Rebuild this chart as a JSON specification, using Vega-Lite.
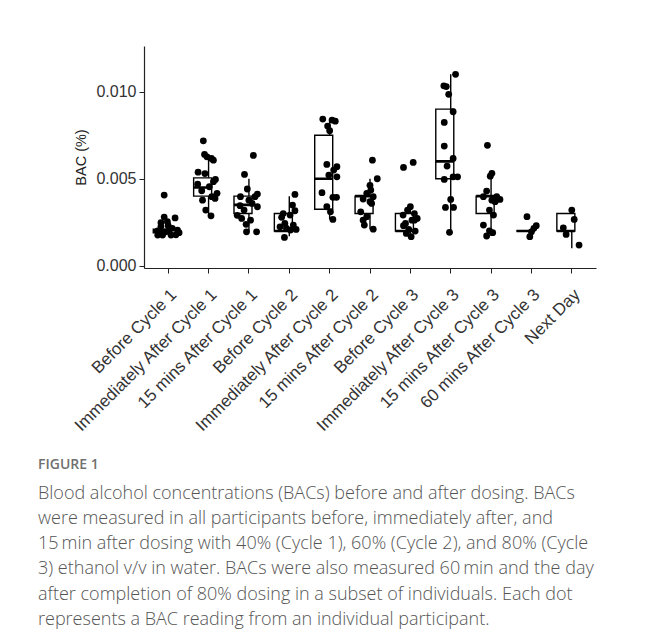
{
  "$schema": "https://vega.github.io/schema/vega-lite/v6.json",
  "autosize": "none",
  "width": 452,
  "height": 222,
  "padding": {"left": 144, "top": 46, "right": 58, "bottom": 371},
  "background": "white",
  "config": {"view": {"stroke": null}, "font": "Liberation Sans"},
  "title": {
    "text": "FIGURE 1",
    "subtitle": [
      "Blood alcohol concentrations (BACs) before and after dosing. BACs",
      "were measured in all participants before, immediately after, and",
      "15\u2009min after dosing with 40% (Cycle 1), 60% (Cycle 2), and 80% (Cycle",
      "3) ethanol v/v in water. BACs were also measured 60\u2009min and the day",
      "after completion of 80% dosing in a subset of individuals. Each dot",
      "represents a BAC reading from an individual participant."
    ],
    "orient": "bottom",
    "anchor": "start",
    "frame": "group",
    "dx": -106,
    "offset": 24,
    "font": "Open Sans",
    "fontSize": 14,
    "fontWeight": 600,
    "color": "#707070",
    "subtitleFont": "Open Sans",
    "subtitleFontSize": 18,
    "subtitleFontWeight": 300,
    "subtitleColor": "#555555",
    "subtitleLineHeight": 25.2,
    "subtitlePadding": 12.5
  },
  "datasets": {
    "boxes": [
      {"time": "Before Cycle 1", "lo": 0.0019, "q1": 0.0019, "med": 0.002, "q3": 0.0021, "hi": 0.0021},
      {"time": "Immediately After Cycle 1", "lo": 0.00287, "q1": 0.004, "med": 0.0045, "q3": 0.00505, "hi": 0.00617},
      {"time": "15 mins After Cycle 1", "lo": 0.00195, "q1": 0.003, "med": 0.0035, "q3": 0.004, "hi": 0.005},
      {"time": "Before Cycle 2", "lo": 0.0017, "q1": 0.002, "med": 0.002, "q3": 0.003, "hi": 0.004},
      {"time": "Immediately After Cycle 2", "lo": 0.00266, "q1": 0.00325, "med": 0.005, "q3": 0.0075, "hi": 0.00843},
      {"time": "15 mins After Cycle 2", "lo": 0.0021, "q1": 0.003, "med": 0.004, "q3": 0.004, "hi": 0.005},
      {"time": "Before Cycle 3", "lo": 0.0017, "q1": 0.002, "med": 0.002, "q3": 0.003, "hi": 0.0033},
      {"time": "Immediately After Cycle 3", "lo": 0.00192, "q1": 0.005, "med": 0.006, "q3": 0.009, "hi": 0.011},
      {"time": "15 mins After Cycle 3", "lo": 0.00171, "q1": 0.003, "med": 0.004, "q3": 0.004, "hi": 0.0053},
      {"time": "60 mins After Cycle 3", "lo": 0.002, "q1": 0.002, "med": 0.002, "q3": 0.002, "hi": 0.002},
      {"time": "Next Day", "lo": 0.001, "q1": 0.002, "med": 0.002, "q3": 0.003, "hi": 0.003}
    ],
    "points": [
      {"time": "Before Cycle 1", "bac": 0.00406, "j": -0.1},
      {"time": "Before Cycle 1", "bac": 0.0028, "j": -0.1},
      {"time": "Before Cycle 1", "bac": 0.00275, "j": 0.17},
      {"time": "Before Cycle 1", "bac": 0.00247, "j": -0.18},
      {"time": "Before Cycle 1", "bac": 0.0023, "j": 0.0},
      {"time": "Before Cycle 1", "bac": 0.00205, "j": 0.23},
      {"time": "Before Cycle 1", "bac": 0.00176, "j": -0.14},
      {"time": "Before Cycle 1", "bac": 0.00176, "j": 0.07},
      {"time": "Before Cycle 1", "bac": 0.00178, "j": 0.19},
      {"time": "Before Cycle 1", "bac": 0.002, "j": -0.26},
      {"time": "Before Cycle 1", "bac": 0.00195, "j": -0.06},
      {"time": "Before Cycle 1", "bac": 0.00215, "j": 0.1},
      {"time": "Before Cycle 1", "bac": 0.00225, "j": -0.18},
      {"time": "Before Cycle 1", "bac": 0.00253, "j": -0.02},
      {"time": "Before Cycle 1", "bac": 0.00176, "j": -0.26},
      {"time": "Before Cycle 1", "bac": 0.0019, "j": 0.27},
      {"time": "Immediately After Cycle 1", "bac": 0.00718, "j": -0.13},
      {"time": "Immediately After Cycle 1", "bac": 0.0064, "j": -0.1},
      {"time": "Immediately After Cycle 1", "bac": 0.00626, "j": -0.04},
      {"time": "Immediately After Cycle 1", "bac": 0.00617, "j": 0.07},
      {"time": "Immediately After Cycle 1", "bac": 0.00607, "j": 0.12},
      {"time": "Immediately After Cycle 1", "bac": 0.00538, "j": -0.26},
      {"time": "Immediately After Cycle 1", "bac": 0.0053, "j": -0.09},
      {"time": "Immediately After Cycle 1", "bac": 0.00496, "j": 0.17},
      {"time": "Immediately After Cycle 1", "bac": 0.00483, "j": 0.12},
      {"time": "Immediately After Cycle 1", "bac": 0.00469, "j": -0.27},
      {"time": "Immediately After Cycle 1", "bac": 0.00454, "j": 0.02},
      {"time": "Immediately After Cycle 1", "bac": 0.00431, "j": -0.17},
      {"time": "Immediately After Cycle 1", "bac": 0.00416, "j": 0.21},
      {"time": "Immediately After Cycle 1", "bac": 0.00397, "j": 0.08},
      {"time": "Immediately After Cycle 1", "bac": 0.00377, "j": -0.15},
      {"time": "Immediately After Cycle 1", "bac": 0.0032, "j": -0.07},
      {"time": "Immediately After Cycle 1", "bac": 0.00287, "j": 0.06},
      {"time": "Immediately After Cycle 1", "bac": 0.00387, "j": 0.16},
      {"time": "15 mins After Cycle 1", "bac": 0.00634, "j": 0.11},
      {"time": "15 mins After Cycle 1", "bac": 0.00525, "j": -0.11},
      {"time": "15 mins After Cycle 1", "bac": 0.00441, "j": -0.04},
      {"time": "15 mins After Cycle 1", "bac": 0.00412, "j": 0.21},
      {"time": "15 mins After Cycle 1", "bac": 0.00397, "j": 0.15},
      {"time": "15 mins After Cycle 1", "bac": 0.00397, "j": -0.21},
      {"time": "15 mins After Cycle 1", "bac": 0.00377, "j": 0.0},
      {"time": "15 mins After Cycle 1", "bac": 0.00358, "j": 0.08},
      {"time": "15 mins After Cycle 1", "bac": 0.00345, "j": -0.22},
      {"time": "15 mins After Cycle 1", "bac": 0.00339, "j": 0.21},
      {"time": "15 mins After Cycle 1", "bac": 0.0032, "j": -0.12},
      {"time": "15 mins After Cycle 1", "bac": 0.00272, "j": -0.18},
      {"time": "15 mins After Cycle 1", "bac": 0.00262, "j": 0.04},
      {"time": "15 mins After Cycle 1", "bac": 0.00238, "j": -0.07},
      {"time": "15 mins After Cycle 1", "bac": 0.00195, "j": -0.06},
      {"time": "15 mins After Cycle 1", "bac": 0.00195, "j": 0.19},
      {"time": "15 mins After Cycle 1", "bac": 0.0029, "j": -0.29},
      {"time": "Before Cycle 2", "bac": 0.0041, "j": 0.14},
      {"time": "Before Cycle 2", "bac": 0.00349, "j": 0.08},
      {"time": "Before Cycle 2", "bac": 0.003, "j": -0.15},
      {"time": "Before Cycle 2", "bac": 0.00316, "j": 0.14},
      {"time": "Before Cycle 2", "bac": 0.00291, "j": 0.02},
      {"time": "Before Cycle 2", "bac": 0.00278, "j": -0.19},
      {"time": "Before Cycle 2", "bac": 0.00243, "j": -0.11},
      {"time": "Before Cycle 2", "bac": 0.00234, "j": 0.1},
      {"time": "Before Cycle 2", "bac": 0.00224, "j": -0.23},
      {"time": "Before Cycle 2", "bac": 0.00209, "j": 0.17},
      {"time": "Before Cycle 2", "bac": 0.00215, "j": -0.07},
      {"time": "Before Cycle 2", "bac": 0.00163, "j": -0.12},
      {"time": "Before Cycle 2", "bac": 0.00205, "j": 0.03},
      {"time": "Immediately After Cycle 2", "bac": 0.00843, "j": -0.17},
      {"time": "Immediately After Cycle 2", "bac": 0.00837, "j": 0.06},
      {"time": "Immediately After Cycle 2", "bac": 0.00831, "j": 0.14},
      {"time": "Immediately After Cycle 2", "bac": 0.00803, "j": -0.05},
      {"time": "Immediately After Cycle 2", "bac": 0.00776, "j": 0.0},
      {"time": "Immediately After Cycle 2", "bac": 0.00582, "j": -0.07},
      {"time": "Immediately After Cycle 2", "bac": 0.00569, "j": 0.18},
      {"time": "Immediately After Cycle 2", "bac": 0.0055, "j": 0.1},
      {"time": "Immediately After Cycle 2", "bac": 0.00521, "j": -0.02},
      {"time": "Immediately After Cycle 2", "bac": 0.00511, "j": 0.18},
      {"time": "Immediately After Cycle 2", "bac": 0.0042, "j": -0.19},
      {"time": "Immediately After Cycle 2", "bac": 0.00393, "j": 0.08},
      {"time": "Immediately After Cycle 2", "bac": 0.00393, "j": 0.17},
      {"time": "Immediately After Cycle 2", "bac": 0.00339, "j": -0.07},
      {"time": "Immediately After Cycle 2", "bac": 0.0031, "j": 0.02},
      {"time": "Immediately After Cycle 2", "bac": 0.00266, "j": 0.08},
      {"time": "15 mins After Cycle 2", "bac": 0.00607, "j": 0.06},
      {"time": "15 mins After Cycle 2", "bac": 0.005, "j": 0.18},
      {"time": "15 mins After Cycle 2", "bac": 0.00462, "j": 0.0},
      {"time": "15 mins After Cycle 2", "bac": 0.00435, "j": 0.02},
      {"time": "15 mins After Cycle 2", "bac": 0.00416, "j": -0.08},
      {"time": "15 mins After Cycle 2", "bac": 0.00397, "j": 0.08},
      {"time": "15 mins After Cycle 2", "bac": 0.00383, "j": -0.17},
      {"time": "15 mins After Cycle 2", "bac": 0.00368, "j": 0.0},
      {"time": "15 mins After Cycle 2", "bac": 0.00358, "j": 0.04},
      {"time": "15 mins After Cycle 2", "bac": 0.0031, "j": -0.23},
      {"time": "15 mins After Cycle 2", "bac": 0.00282, "j": -0.08},
      {"time": "15 mins After Cycle 2", "bac": 0.00262, "j": -0.17},
      {"time": "15 mins After Cycle 2", "bac": 0.00234, "j": -0.14},
      {"time": "15 mins After Cycle 2", "bac": 0.0021, "j": 0.08},
      {"time": "Before Cycle 3", "bac": 0.00565, "j": -0.17},
      {"time": "Before Cycle 3", "bac": 0.00594, "j": 0.07},
      {"time": "Before Cycle 3", "bac": 0.00339, "j": 0.0},
      {"time": "Before Cycle 3", "bac": 0.0032, "j": -0.07},
      {"time": "Before Cycle 3", "bac": 0.003, "j": 0.1},
      {"time": "Before Cycle 3", "bac": 0.00291, "j": -0.18},
      {"time": "Before Cycle 3", "bac": 0.00272, "j": 0.17},
      {"time": "Before Cycle 3", "bac": 0.00262, "j": 0.04},
      {"time": "Before Cycle 3", "bac": 0.00243, "j": -0.12},
      {"time": "Before Cycle 3", "bac": 0.0023, "j": -0.17},
      {"time": "Before Cycle 3", "bac": 0.00209, "j": -0.04},
      {"time": "Before Cycle 3", "bac": 0.00199, "j": 0.12},
      {"time": "Before Cycle 3", "bac": 0.00186, "j": -0.1},
      {"time": "Before Cycle 3", "bac": 0.00167, "j": 0.02},
      {"time": "Before Cycle 3", "bac": 0.00262, "j": 0.1},
      {"time": "Immediately After Cycle 3", "bac": 0.011, "j": 0.12},
      {"time": "Immediately After Cycle 3", "bac": 0.01034, "j": -0.17},
      {"time": "Immediately After Cycle 3", "bac": 0.0103, "j": -0.11},
      {"time": "Immediately After Cycle 3", "bac": 0.00985, "j": -0.05},
      {"time": "Immediately After Cycle 3", "bac": 0.00885, "j": 0.06},
      {"time": "Immediately After Cycle 3", "bac": 0.00824, "j": -0.16},
      {"time": "Immediately After Cycle 3", "bac": 0.00688, "j": -0.16},
      {"time": "Immediately After Cycle 3", "bac": 0.00617, "j": 0.06},
      {"time": "Immediately After Cycle 3", "bac": 0.00573, "j": -0.09},
      {"time": "Immediately After Cycle 3", "bac": 0.00496, "j": -0.16},
      {"time": "Immediately After Cycle 3", "bac": 0.00511, "j": 0.06},
      {"time": "Immediately After Cycle 3", "bac": 0.00511, "j": 0.17},
      {"time": "Immediately After Cycle 3", "bac": 0.00381, "j": 0.0},
      {"time": "Immediately After Cycle 3", "bac": 0.00335, "j": -0.13},
      {"time": "Immediately After Cycle 3", "bac": 0.00335, "j": 0.07},
      {"time": "Immediately After Cycle 3", "bac": 0.00192, "j": -0.03},
      {"time": "15 mins After Cycle 3", "bac": 0.00692, "j": -0.09},
      {"time": "15 mins After Cycle 3", "bac": 0.00531, "j": 0.02},
      {"time": "15 mins After Cycle 3", "bac": 0.00515, "j": -0.02},
      {"time": "15 mins After Cycle 3", "bac": 0.00429, "j": -0.11},
      {"time": "15 mins After Cycle 3", "bac": 0.00397, "j": 0.14},
      {"time": "15 mins After Cycle 3", "bac": 0.00377, "j": 0.02},
      {"time": "15 mins After Cycle 3", "bac": 0.00397, "j": -0.19},
      {"time": "15 mins After Cycle 3", "bac": 0.00368, "j": 0.1},
      {"time": "15 mins After Cycle 3", "bac": 0.0032, "j": -0.04},
      {"time": "15 mins After Cycle 3", "bac": 0.00291, "j": 0.06},
      {"time": "15 mins After Cycle 3", "bac": 0.00234, "j": -0.19},
      {"time": "15 mins After Cycle 3", "bac": 0.00201, "j": -0.04},
      {"time": "15 mins After Cycle 3", "bac": 0.0019, "j": 0.04},
      {"time": "15 mins After Cycle 3", "bac": 0.00171, "j": -0.11},
      {"time": "15 mins After Cycle 3", "bac": 0.00381, "j": 0.22},
      {"time": "60 mins After Cycle 3", "bac": 0.00282, "j": -0.11},
      {"time": "60 mins After Cycle 3", "bac": 0.0023, "j": 0.12},
      {"time": "60 mins After Cycle 3", "bac": 0.00215, "j": 0.06},
      {"time": "60 mins After Cycle 3", "bac": 0.00195, "j": 0.0},
      {"time": "60 mins After Cycle 3", "bac": 0.00167, "j": -0.04},
      {"time": "Next Day", "bac": 0.0032, "j": 0.0},
      {"time": "Next Day", "bac": 0.00266, "j": 0.06},
      {"time": "Next Day", "bac": 0.00218, "j": -0.21},
      {"time": "Next Day", "bac": 0.0018, "j": -0.14},
      {"time": "Next Day", "bac": 0.00119, "j": 0.18}
    ]
  },
  "encoding": {
    "x": {
      "field": "time",
      "type": "nominal",
      "sort": ["Before Cycle 1", "Immediately After Cycle 1", "15 mins After Cycle 1", "Before Cycle 2", "Immediately After Cycle 2", "15 mins After Cycle 2", "Before Cycle 3", "Immediately After Cycle 3", "15 mins After Cycle 3", "60 mins After Cycle 3", "Next Day"],
      "scale": {"paddingInner": 0, "paddingOuter": 0.1},
      "axis": {
        "title": null,
        "labelAngle": -45,
        "labelAlign": "right",
        "labelBaseline": "top",
        "labelFontSize": 17,
        "labelColor": "#333333",
        "labelPadding": 13,
        "tickSize": 5,
        "tickColor": "#222222",
        "domainColor": "#222222",
        "domainWidth": 1.2,
        "labelLimit": 300
      }
    }
  },
  "layer": [
    {
      "data": {"name": "boxes"},
      "mark": {"type": "rule", "color": "black", "strokeWidth": 1.4},
      "encoding": {
        "y": {"field": "lo", "type": "quantitative"},
        "y2": {"field": "hi"}
      }
    },
    {
      "data": {"name": "boxes"},
      "mark": {"type": "bar", "fill": "white", "stroke": "black", "strokeWidth": 1.4, "width": {"band": 0.74}},
      "encoding": {
        "y": {"field": "q1", "type": "quantitative"},
        "y2": {"field": "q3"}
      }
    },
    {
      "data": {"name": "boxes"},
      "mark": {"type": "bar", "fill": "black", "stroke": "black", "strokeWidth": 2.6, "width": {"band": 0.74}},
      "encoding": {
        "y": {"field": "med", "type": "quantitative"},
        "y2": {"field": "med"}
      }
    },
    {
      "data": {"name": "points"},
      "mark": {"type": "circle", "color": "black", "opacity": 1, "size": 46},
      "encoding": {
        "y": {
          "field": "bac",
          "type": "quantitative",
          "scale": {"domain": [-0.00013, 0.01263], "nice": false, "zero": false},
          "axis": {
            "title": "BAC (%)",
            "values": [0, 0.005, 0.01],
            "format": ".3f",
            "grid": false,
            "labelFontSize": 16,
            "labelColor": "#333333",
            "labelPadding": 3,
            "tickSize": 5,
            "tickColor": "#222222",
            "domainColor": "#222222",
            "domainWidth": 1.2,
            "titleFontSize": 14.5,
            "titleFontWeight": "normal",
            "titleColor": "#222222",
            "titlePadding": 7
          }
        },
        "xOffset": {"field": "j", "type": "quantitative", "scale": {"domain": [-0.5, 0.5]}}
      }
    }
  ],
  "resolve": {"scale": {"y": "shared"}}
}
